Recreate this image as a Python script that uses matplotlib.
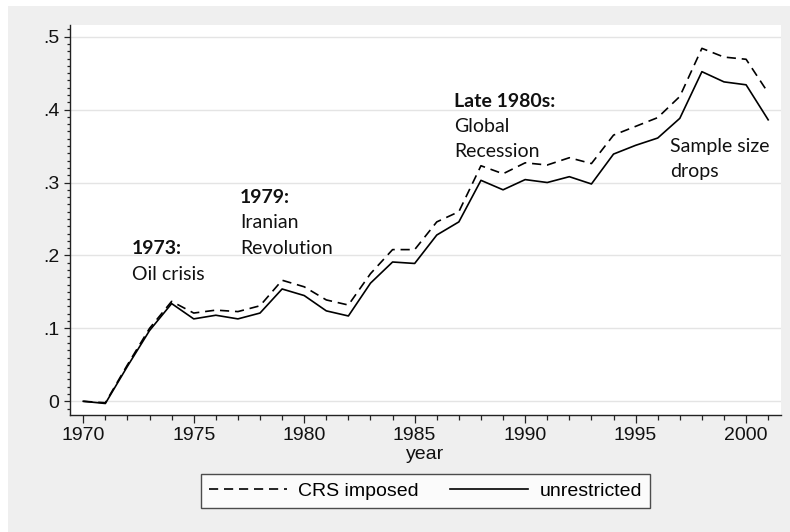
import numpy as np
import matplotlib.pyplot as plt
from matplotlib.patches import Rectangle
from matplotlib.ticker import MultipleLocator, FixedLocator

# Data
years = list(range(1970, 2002))
crs_imposed = [0.000, -0.002, 0.050, 0.100, 0.137, 0.121, 0.125, 0.123, 0.131, 0.166,
               0.157, 0.139, 0.132, 0.175, 0.208, 0.208, 0.246, 0.260, 0.323, 0.312,
               0.327, 0.324, 0.334, 0.326, 0.365, 0.377, 0.389, 0.418, 0.484, 0.472,
               0.469, 0.423]
unrestricted = [0.000, -0.003, 0.048, 0.097, 0.134, 0.113, 0.118, 0.113, 0.121, 0.154,
                0.145, 0.124, 0.117, 0.162, 0.191, 0.189, 0.228, 0.246, 0.303, 0.290,
                0.304, 0.300, 0.308, 0.298, 0.339, 0.351, 0.361, 0.388, 0.452, 0.438,
                0.434, 0.386]

y_ticks = [0, 0.1, 0.2, 0.3, 0.4, 0.5]
y_tick_labels = ['0', '.1', '.2', '.3', '.4', '.5']
x_ticks = [1970, 1975, 1980, 1985, 1990, 1995, 2000]

# (x, y, bold heading, plain lines)
notes = [
    (1972.2, 0.209, '1973:', ['Oil crisis']),
    (1977.1, 0.279, '1979:', ['Iranian', 'Revolution']),
    (1986.8, 0.411, 'Late 1980s:', ['Global', 'Recession']),
    (1996.55, 0.349, None, ['Sample size', 'drops']),
]

tick_font = 'Liberation Sans'
note_font = 'Lato'

fig = plt.figure(figsize=(7.9, 5.32), dpi=100)
fig.patch.set_facecolor('white')
fig.patches.append(Rectangle((8 / 790, 0), 782 / 790, 526 / 532, transform=fig.transFigure,
                             facecolor='#efefef', edgecolor='none', zorder=-10))

ax = fig.add_axes([70 / 790, 117 / 532, 711 / 790, 390 / 532])
ax.set_facecolor('white')

ax.plot(years, crs_imposed, color='black', lw=1.2, linestyle=(0, (5.5, 3.5)), label='CRS imposed')
ax.plot(years, unrestricted, color='black', lw=1.2, label='unrestricted')

ax.set_xlim(1969.4, 2001.58)
ax.set_ylim(-0.0188, 0.516)

ax.yaxis.set_major_locator(FixedLocator(y_ticks))
ax.set_yticklabels(y_tick_labels)
ax.yaxis.set_minor_locator(MultipleLocator(0.01))
ax.xaxis.set_major_locator(FixedLocator(x_ticks))
ax.xaxis.set_minor_locator(MultipleLocator(1))

ax.grid(axis='y', which='major', color='#e4e4e4', lw=1.0)
ax.set_axisbelow(True)

for side in ['top', 'right']:
    ax.spines[side].set_visible(False)
for side in ['left', 'bottom']:
    ax.spines[side].set_color('#222222')
    ax.spines[side].set_linewidth(1.0)

ax.tick_params(axis='both', which='both', direction='out', color='#222222', width=0.9)
ax.tick_params(axis='x', which='major', length=6, pad=3)
ax.tick_params(axis='x', which='minor', length=3.5)
ax.tick_params(axis='y', which='major', length=4.5, pad=3)
ax.tick_params(axis='y', which='minor', length=2.5)
for lab in ax.get_xticklabels() + ax.get_yticklabels():
    lab.set_fontfamily(tick_font)
    lab.set_fontsize(14)
    lab.set_color('#111111')

ax.set_xlabel('year', fontfamily=tick_font, fontsize=14, color='#111111', labelpad=1)

# Annotations
line_step = 0.0345
for x, y, head, lines in notes:
    rows = ([head] if head else []) + lines
    for i, row in enumerate(rows):
        ax.text(x, y - i * line_step, row, fontfamily=note_font, fontsize=14,
                fontweight='bold' if (head and i == 0) else 'normal',
                va='center', ha='left', color='#111111')

leg = fig.legend(loc='center', bbox_to_anchor=(425.5 / 790, 1 - 491 / 532), ncol=2,
                 frameon=True, fancybox=False, handlelength=4.0, columnspacing=1.6,
                 handletextpad=0.6, borderpad=0.4, borderaxespad=0,
                 prop={'family': tick_font, 'size': 14})
leg.get_frame().set_edgecolor('#222222')
leg.get_frame().set_linewidth(1.0)
leg.get_frame().set_facecolor('white')

fig.savefig('out.png', dpi=100, facecolor=fig.get_facecolor())
